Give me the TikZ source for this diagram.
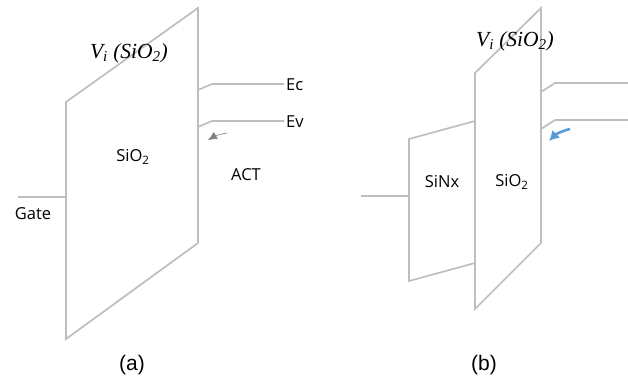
\documentclass[tikz,border=0pt]{standalone}
\usepackage{fontspec}
\setmainfont{Open Sans}
\newfontfamily\capfont{Liberation Sans}
\newfontfamily\volfont{Liberation Serif}
\usetikzlibrary{arrows.meta}
\definecolor{linegray}{RGB}{190,190,190}
\definecolor{tipblue}{RGB}{91,155,213}
\tikzset{
  band/.style={draw=linegray,line width=1.7pt,line join=miter},
  lbl/.style={inner sep=0pt,font=\fontsize{16.5}{20}\selectfont},
  figcap/.style={inner sep=0pt,font=\capfont\fontsize{21}{25}\selectfont},
  vol/.style={inner sep=0pt,font=\volfont\itshape\fontsize{21.5}{26}\selectfont}
}
\begin{document}
\begin{tikzpicture}[x=1pt,y=-1pt]
  \useasboundingbox (0,0) rectangle (628,382);
  % (a)
  \draw[band] (66,102) coordinate (A1) -- (198,8) coordinate (A2)
    -- (198,243) coordinate (A3) -- (66,339) coordinate (A4) -- cycle;
  \coordinate (G) at (18,197);
  \coordinate (Gi) at (66,197);
  \draw[band] (G) -- (Gi);
  \draw[band] (198,90) coordinate (C0) -- (212,84) coordinate (C1) -- (284,84) coordinate (C2);
  \draw[band] (198,127) coordinate (V0) -- (212,121) coordinate (V1) -- (284,121) coordinate (V2);
  \draw[-{Latex[length=9pt,width=8pt]},draw=gray,fill=gray,line width=.5pt]
    (227,133) coordinate (P0) to[bend right=10] (208,140) coordinate (P1);
  \node[vol] (via) at (129,53) {V\textsubscript{i} (SiO\textsubscript{2})};
  \node[lbl] (oxa) at (133,157) {SiO\textsubscript{2}};
  \node[lbl,right] (ec) at (286,85) {Ec};
  \node[lbl,right] (ev) at (286,122) {Ev};
  \node[lbl] (act) at (246,175) {ACT};
  \node[lbl] (gate) at (33,214) {Gate};
  \node[figcap] (capa) at (132,365) {(a)};
  % (b)
  \draw[band] (475,73) coordinate (B1) -- (541,8) coordinate (B2)
    -- (541,243) coordinate (B3) -- (475,309) coordinate (B4) -- cycle;
  \draw[band] (475,121) coordinate (N1) -- (409,139) coordinate (N2)
    -- (409,281) coordinate (N3) -- (475,263) coordinate (N4);
  \coordinate (H) at (361,196);
  \draw[band] (H) -- (N2 |- H);
  \draw[band] (541,92) coordinate (D0) -- (555,83) coordinate (D1) -- (628,83) coordinate (D2);
  \draw[band] (541,129) coordinate (E0) -- (555,120) coordinate (E1) -- (628,120) coordinate (E2);
  \draw[-{Latex[length=10pt,width=11pt]},draw=tipblue,line width=2.6pt]
    (570,129) coordinate (Q0) to[bend right=15] (549,141) coordinate (Q1);
  \node[vol] (vib) at (515,41) {V\textsubscript{i} (SiO\textsubscript{2})};
  \node[lbl] (nx) at (442,182) {SiNx};
  \node[lbl] (oxb) at (512,182) {SiO\textsubscript{2}};
  \node[figcap] (capb) at (484,365) {(b)};
\end{tikzpicture}
\end{document}
